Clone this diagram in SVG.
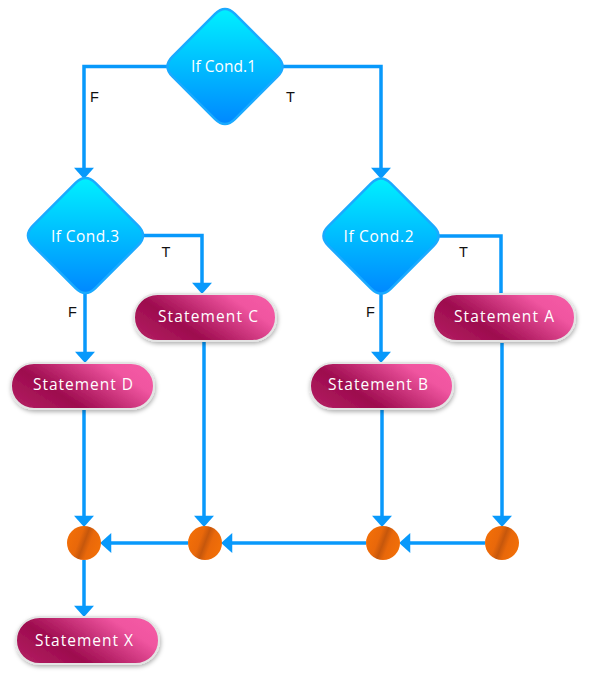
<svg xmlns="http://www.w3.org/2000/svg" width="589" height="680" viewBox="0 0 589 680">
<defs>
  <linearGradient id="gDia" x1="0" y1="0" x2="0" y2="1">
    <stop offset="0" stop-color="#00f0ff"/>
    <stop offset="1" stop-color="#0088ff"/>
  </linearGradient>
  <linearGradient id="gPill" x1="0" y1="0.75" x2="1" y2="0.25">
    <stop offset="0" stop-color="#b01c5f"/>
    <stop offset="0.3" stop-color="#9d0b4e"/>
    <stop offset="0.82" stop-color="#f055a0"/>
    <stop offset="1" stop-color="#f45aa4"/>
  </linearGradient>
  <linearGradient id="gDot" x1="0.1" y1="0.35" x2="0.9" y2="0.65">
    <stop offset="0" stop-color="#f06d08"/>
    <stop offset="0.3" stop-color="#e9680a"/>
    <stop offset="0.5" stop-color="#c6570c"/>
    <stop offset="0.7" stop-color="#e9680a"/>
    <stop offset="1" stop-color="#f06e08"/>
  </linearGradient>
  <filter id="shadow" x="-20%" y="-30%" width="140%" height="170%">
    <feDropShadow dx="1" dy="2" stdDeviation="2" flood-color="#000" flood-opacity="0.3"/>
  </filter>
  <marker id="arr" markerUnits="userSpaceOnUse" markerWidth="12" markerHeight="20" refX="2" refY="9" orient="auto" viewBox="0 0 10 18">
    <path d="M0,0 L10,9 L0,18 Z" fill="#0899fb"/>
  </marker>
  <path id="dia" d="M9.9,-52.6 L52.6,-9.9 Q62.5,0 52.6,9.9 L9.9,52.6 Q0,62.5 -9.9,52.6 L-52.6,9.9 Q-62.5,0 -52.6,-9.9 L-9.9,-52.6 Q0,-62.5 9.9,-52.6 Z"/>
</defs>
<style>
  .ln { fill: none; stroke: #0899fb; stroke-width: 3.5; }
  .dia { fill: url(#gDia); stroke: #1aaaff; stroke-width: 2.5; }
  .pill { fill: url(#gPill); stroke: #e4e4e4; stroke-width: 2; filter: url(#shadow); }
  .dot { fill: url(#gDot); }
  .t { font-family: "Open Sans", "Noto Sans", sans-serif; font-size: 15.5px; font-weight: 500; fill: #ffffff; text-anchor: middle; }
  .lb { font-family: "Liberation Sans", Arial, sans-serif; font-size: 14.5px; fill: #111111; text-anchor: middle; }
</style>

<g id="connectors">
  <path class="ln" d="M167,66.5 H84 V170" marker-end="url(#arr)"/>
  <path class="ln" d="M283,66.5 H381 V170" marker-end="url(#arr)"/>
  <path class="ln" d="M143,235.5 H202 V285" marker-end="url(#arr)"/>
  <path class="ln" d="M85,293 V354" marker-end="url(#arr)"/>
  <path class="ln" d="M437,236 H501 V294"/>
  <path class="ln" d="M381,293 V354" marker-end="url(#arr)"/>
  <path class="ln" d="M204,342 V518" marker-end="url(#arr)"/>
  <path class="ln" d="M84,410 V518" marker-end="url(#arr)"/>
  <path class="ln" d="M382,410 V518" marker-end="url(#arr)"/>
  <path class="ln" d="M502,343 V518" marker-end="url(#arr)"/>
  <path class="ln" d="M84,560 V608" marker-end="url(#arr)"/>
  <path class="ln" d="M485,543 H408" marker-end="url(#arr)"/>
  <path class="ln" d="M366,543 H230" marker-end="url(#arr)"/>
  <path class="ln" d="M188,543 H109" marker-end="url(#arr)"/>
  <text class="lb" x="94.5" y="102">F</text>
  <text class="lb" x="290.5" y="102">T</text>
  <text class="lb" x="166" y="257">T</text>
  <text class="lb" x="72.5" y="317">F</text>
  <text class="lb" x="463.5" y="257">T</text>
  <text class="lb" x="370.5" y="317">F</text>
</g>

<g id="cond1">
  <use href="#dia" class="dia" x="225" y="66.5"/>
  <text class="t" x="223.5" y="71.5" textLength="65" lengthAdjust="spacing">If Cond.1</text>
</g>
<g id="cond3">
  <use href="#dia" class="dia" x="85.5" y="235.5"/>
  <text class="t" x="85" y="242" textLength="68" lengthAdjust="spacing">If Cond.3</text>
</g>
<g id="cond2">
  <use href="#dia" class="dia" x="381" y="236"/>
  <text class="t" x="378.5" y="242" textLength="70" lengthAdjust="spacing">If Cond.2</text>
</g>

<g id="stmtC">
  <rect class="pill" x="134" y="294" width="142" height="47" rx="23.5"/>
  <text class="t" x="208" y="321.5" textLength="100" lengthAdjust="spacing">Statement C</text>
</g>
<g id="stmtA">
  <rect class="pill" x="433" y="294" width="142" height="47" rx="23.5"/>
  <text class="t" x="504" y="321.5" textLength="100" lengthAdjust="spacing">Statement A</text>
</g>
<g id="stmtD">
  <rect class="pill" x="11" y="363" width="143" height="46" rx="23"/>
  <text class="t" x="83" y="389.5" textLength="100" lengthAdjust="spacing">Statement D</text>
</g>
<g id="stmtB">
  <rect class="pill" x="310" y="363" width="143" height="46" rx="23"/>
  <text class="t" x="378" y="390" textLength="100" lengthAdjust="spacing">Statement B</text>
</g>
<g id="stmtX">
  <rect class="pill" x="16" y="617" width="143" height="47" rx="23.5"/>
  <text class="t" x="84" y="645.5" textLength="98" lengthAdjust="spacing">Statement X</text>
</g>

<g id="join1"><circle class="dot" cx="84" cy="543" r="17"/></g>
<g id="join2"><circle class="dot" cx="205" cy="543" r="17"/></g>
<g id="join3"><circle class="dot" cx="383" cy="543" r="17"/></g>
<g id="join4"><circle class="dot" cx="502" cy="543" r="17"/></g>
</svg>
